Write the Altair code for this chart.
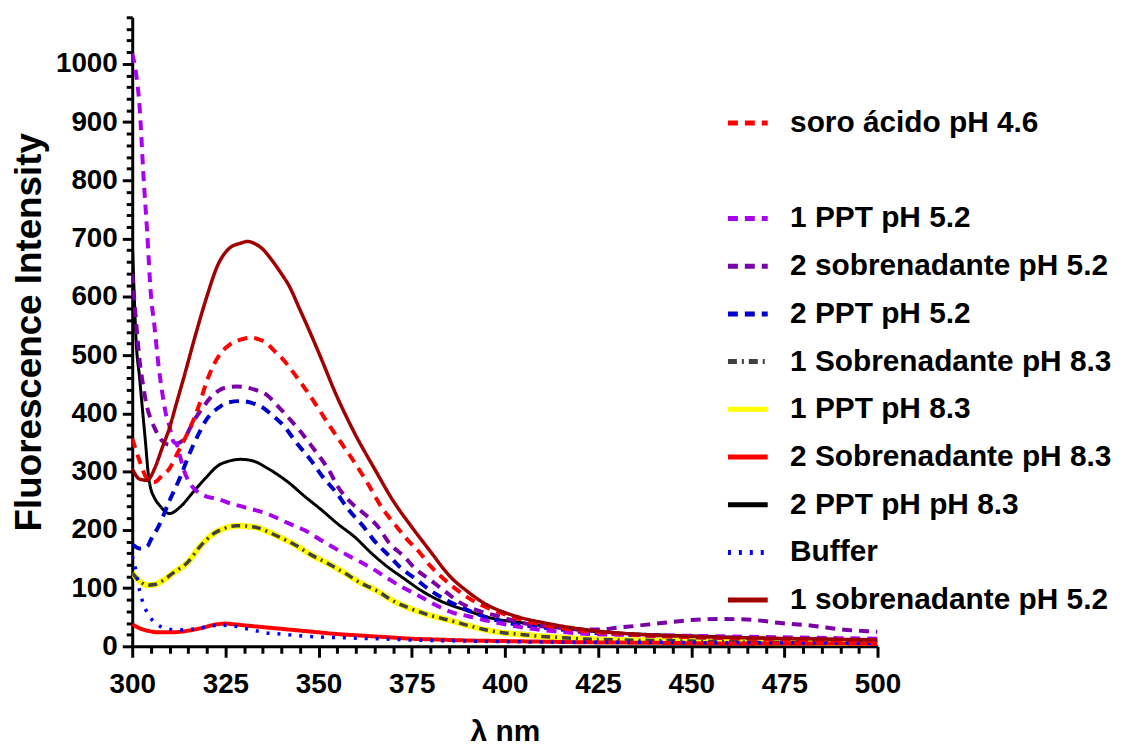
import altair as alt
import pandas as pd

# ---------------- data ----------------
soro_x = [300,302,304,306,308,310,312,314,316,318,320,322,324,326,328,330,332,334,336,338,340,343,346,350,353,356,359,363,367,370,374,377,380,385,390,395,400,405,410,420,430,440,450,460,470,480,490,500]
soro_y = [357,318,288,282,293,305,330,355,382,415,455,485,505,517,524,528,530,527,521,508,496,472,446,408,378,350,322,282,238,213,182,162,138,108,84,67,55,45,37,27,22,18,16,14,12,11,10,9]

ppt1_52_x = [300,301,302,303,304,305,306,307,308,309,310,311,312,313,314,315,317,320,323,326,330,336,342,346,352,355,360,364,368,372,376,382,386,390,395,400,405,410,415,420,430,440,450,460,470,480,490,500]
ppt1_52_y = [1018,985,925,810,712,605,548,485,438,400,378,352,346,322,300,285,268,257,253,246,239,228,211,200,177,166,149,135,119,103,90,69,58,52,44,38,32,28,25,22,20,19,18,17,16,15,14,13]

sob2_52_x = [300,301,302,303,304,305,306,307,308,310,312,314,315,317,319,321,323,325,328,331,334,336,339,342,345,348,350,353,355,359,362,366,369,373,376,380,384,388,392,398,403,408,415,421,426,430,435,442,450,457,465,474,483,490,497,500]
sob2_52_y = [640,560,490,445,410,390,375,362,353,346,348,356,368,392,410,427,438,444,446,444,438,432,413,392,370,345,328,300,276,245,229,205,177,154,133,114,94,75,63,52,43,36,32,29,29,32,35,40,45,47,46,40,35,29,26,25]

ppt2_52_x = [300,302,304,305,307,310,313,315,318,320,323,326,329,332,335,337,341,344,348,351,355,358,362,365,369,372,376,380,385,390,395,400,405,410,415,420,430,440,450,460,470,480,490,500]
ppt2_52_y = [175,168,171,183,205,250,292,325,367,390,409,419,421,418,410,400,376,350,319,292,262,235,206,181,155,135,116,96,77,62,50,41,36,32,29,25,21,18,16,14,13,12,11,10]

sob1_83_x = [300,302,304,306,308,311,315,318,322,325,328,331,334,337,340,344,348,352,357,361,366,370,375,380,385,390,395,400,405,410,415,420,430,440,450,460,470,480,490,500]
sob1_83_y = [126,112,105,106,112,126,145,170,194,203,207,206,203,195,186,173,157,144,126,110,94,78,64,53,45,36,28,23,20,17,15,13,11,10,9,8,7,7,6,6]

ppt1_83_x = sob1_83_x
ppt1_83_y = [126,112,105,106,112,126,145,170,194,203,207,206,203,195,186,173,157,144,126,110,94,78,64,53,45,36,28,23,20,17,15,13,11,10,9,8,7,7,6,6]

sob2_83_x = [300,302,304,307,310,313,316,319,322,325,327,330,335,340,345,350,355,360,365,370,375,380,390,400,410,420,440,460,480,500]
sob2_83_y = [38,31,27,24,24,25,28,32,37,39,38,36,33,30,27,24,21,19,17,15,13,12,10,9,8,7,6,5,5,4]

ppt2_83_x = [300,300.5,301,302,302.7,303.5,304.4,305,305.8,307.6,310,313,316,320,323,326,329,332,337,342,346,351,355,360,364,368,373,377,383,389,396,405,414,423,430,440,450,460,470,480,490,500]
ppt2_83_y = [700,610,530,460,410,355,291,270,257,240,228,240,262,291,310,318,321,319,303,281,259,233,211,186,161,139,116,98,77,63,49,40,32,26,23,20,18,16,14,13,12,11]

buffer_x = [300,301,302,303,304,305,306,307,309,312,315,318,321,324,327,330,333,336,340,345,350,355,360,370,380,390,400,420,440,460,480,500]
buffer_y = [155,130,95,73,58,48,41,36,31,28,29,31,35,36,35,31,27,23,21,18,16,15,14,12,10,9,8,7,7,6,6,5]

sob1_52_x = [300,302,304,306,308,310,312,314,317,320,323,326,329,331,333,335,337,340,342,345,348,350,355,360,365,370,375,380,385,390,395,400,405,410,415,420,425,430,440,450,460,470,480,490,500]
sob1_52_y = [305,287,285,305,340,375,420,465,535,600,655,683,692,695,691,682,667,640,620,578,535,505,428,362,305,250,205,163,122,94,72,58,48,41,35,30,26,23,19,17,15,14,13,12,11]

# legend entries (in legend order); a blank slot reproduces the gap after the first entry
names = ["soro ácido pH 4.6", " ", "1 PPT pH 5.2", "2 sobrenadante pH 5.2", "2 PPT pH 5.2",
         "1 Sobrenadante pH 8.3", "1 PPT pH 8.3", "2 Sobrenadante pH 8.3",
         "\u00a02 PPT pH pH 8.3", "Buffer", "1 sobrenadante pH 5.2"]
colors = ["#FF0000", "transparent", "#A800F0", "#7A00A8", "#0000CC",
          "#404040", "#FFFF00", "#FF0000", "#000000", "#0000FF", "#A00000"]
dashes = [[10, 7], [1, 0], [10, 7], [10, 7], [10, 7],
          [9, 5, 2, 5], [1, 0], [1, 0], [1, 0], [3, 8], [1, 0]]

series = {
    "soro ácido pH 4.6": (soro_x, soro_y),
    "1 PPT pH 5.2": (ppt1_52_x, ppt1_52_y),
    "2 sobrenadante pH 5.2": (sob2_52_x, sob2_52_y),
    "2 PPT pH 5.2": (ppt2_52_x, ppt2_52_y),
    "1 Sobrenadante pH 8.3": (sob1_83_x, sob1_83_y),
    "1 PPT pH 8.3": (ppt1_83_x, ppt1_83_y),
    "2 Sobrenadante pH 8.3": (sob2_83_x, sob2_83_y),
    "\u00a02 PPT pH pH 8.3": (ppt2_83_x, ppt2_83_y),
    "Buffer": (buffer_x, buffer_y),
    "1 sobrenadante pH 5.2": (sob1_52_x, sob1_52_y),
}

# drawing order (bottom -> top) and line widths
draw_order = ["1 PPT pH 8.3", "1 Sobrenadante pH 8.3", "2 Sobrenadante pH 8.3", "Buffer",
              "\u00a02 PPT pH pH 8.3", "2 PPT pH 5.2", "2 sobrenadante pH 5.2", "1 PPT pH 5.2",
              "soro ácido pH 4.6", "1 sobrenadante pH 5.2"]
widths = {"1 PPT pH 8.3": 6, "1 Sobrenadante pH 8.3": 3.5, "2 Sobrenadante pH 8.3": 4,
          "Buffer": 3.5, "\u00a02 PPT pH pH 8.3": 3, "2 PPT pH 5.2": 4,
          "2 sobrenadante pH 5.2": 4, "1 PPT pH 5.2": 4, "soro ácido pH 4.6": 4,
          "1 sobrenadante pH 5.2": 3.5}

FONT = "Liberation Sans"

legend = alt.Legend(
    title=None, orient="none", legendX=597, legendY=84,
    symbolType="stroke", symbolSize=1600, symbolStrokeWidth=5,
    labelFont=FONT, labelFontSize=30, labelFontWeight="bold", labelColor="black",
    labelOffset=20, rowPadding=10, padding=0, labelLimit=0,
)

x_axis = alt.Axis(
    values=list(range(300, 505, 5)),
    labelExpr="datum.value % 25 === 0 ? datum.label : ''",
    tickSize={"condition": {"test": "datum.value % 25 === 0", "value": 11}, "value": 7},
    tickWidth=3, tickColor="black", domainWidth=3, domainColor="black",
    labelFont=FONT, labelFontSize=28, labelFontWeight="bold", labelColor="black",
    labelPadding=13, labelOverlap=False, labelFlush=False, grid=False, format="d",
    title="λ nm", titleFont=FONT, titleFontSize=30, titleFontWeight="bold",
    titleColor="black", titleY=86, titleBaseline="middle",
)
y_axis = alt.Axis(
    values=list(range(0, 1081, 20)),
    labelExpr="datum.value % 100 === 0 ? datum.label : ''",
    tickSize={"condition": {"test": "datum.value % 100 === 0", "value": 10}, "value": 6},
    tickWidth=3, tickColor="black", domainWidth=3, domainColor="black",
    labelFont=FONT, labelFontSize=28, labelFontWeight="bold", labelColor="black",
    labelPadding=5, labelOverlap=False, labelFlush=False, grid=False, format="d",
    title="Fluorescence Intensity", titleFont=FONT, titleFontSize=37, titleFontWeight="bold",
    titleColor="black", titleX=-103, titleBaseline="middle",
)

layers = []
for name in draw_order:
    xs, ys = series[name]
    df = pd.DataFrame({"wl": xs, "fi": ys, "series": name})
    layer = alt.Chart(df).mark_line(strokeWidth=widths[name], clip=True, interpolate="monotone").encode(
        x=alt.X("wl:Q", scale=alt.Scale(domain=[300, 500], nice=False, zero=False), axis=x_axis),
        y=alt.Y("fi:Q", scale=alt.Scale(domain=[0, 1080], nice=False), axis=y_axis),
        color=alt.Color("series:N", scale=alt.Scale(domain=names, range=colors), legend=legend),
        strokeDash=alt.StrokeDash("series:N", scale=alt.Scale(domain=names, range=dashes), legend=legend),
    )
    layers.append(layer)

chart = alt.layer(*layers).properties(
    width=750, height=633,
    background="white",
    autosize=alt.AutoSizeParams(type="none"),
    padding={"left": 125, "top": 7, "right": 242, "bottom": 100},
).configure_view(stroke=None)

chart.save("out.html", embed_options={"renderer": "svg", "actions": False})
